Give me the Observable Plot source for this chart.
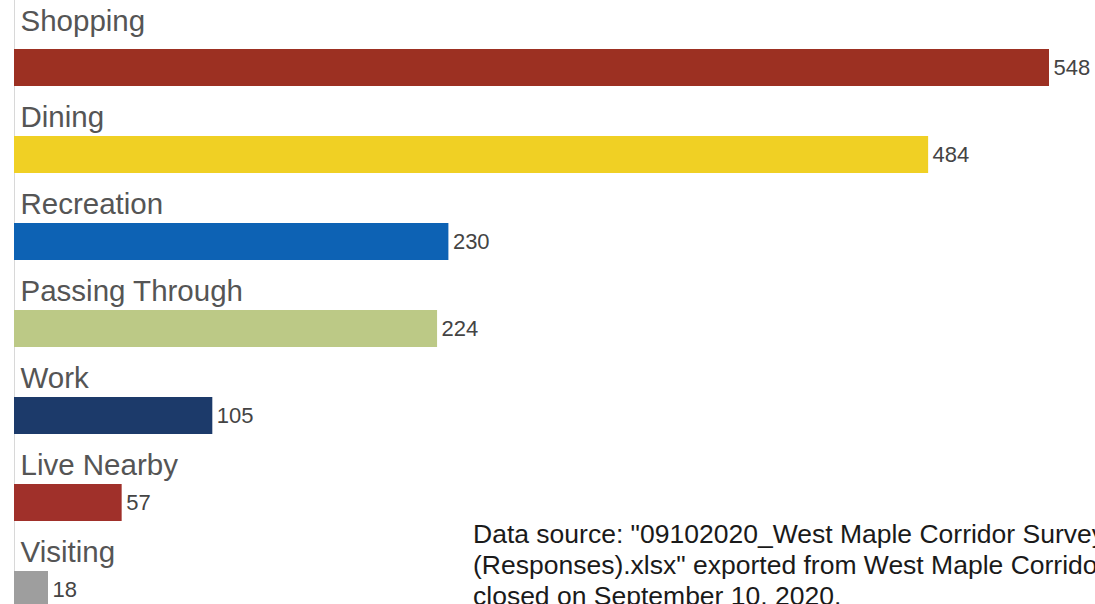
<!DOCTYPE html>
<html>
<head>
<meta charset="utf-8">
<script src="https://cdn.jsdelivr.net/npm/d3@7"></script>
<script src="https://cdn.jsdelivr.net/npm/@observablehq/plot@0.6"></script>
<style>
  html, body { margin: 0; padding: 0; background: #fff; overflow: hidden; }
  #wrap { position: relative; width: 1095px; height: 604px; overflow: hidden; }
  #source { position: absolute; left: 473px; top: 519px; font-family: "Liberation Sans", Arial, sans-serif;
            font-size: 26.5px; line-height: 31px; color: #1a1a1a; white-space: nowrap; }
</style>
</head>
<body>
<div id="wrap"></div>
<script>
const categories = ["Shopping", "Dining", "Recreation", "Passing Through", "Work", "Live Nearby", "Visiting"];
const counts = [548, 484, 230, 224, 105, 57, 18];
const barColors = ["#9c3022", "#f0d024", "#0d62b4", "#bcc986", "#1c3a6a", "#a0302a", "#9e9e9e"];
const sourceLines = [
  "Data source: \"09102020_West Maple Corridor Survey",
  "(Responses).xlsx\" exported from West Maple Corridor Survey,",
  "closed on September 10, 2020."
];

const data = categories.map((c, i) => ({category: c, count: counts[i]}));

const chart = Plot.plot({
  width: 1095,
  height: 604,
  marginTop: 0, marginBottom: 0, marginLeft: 0, marginRight: 0,
  style: {fontFamily: "'Liberation Sans', Arial, sans-serif", background: "#fff", overflow: "visible"},
  x: {domain: [0, 548], range: [14, 1049], axis: null},
  y: {domain: categories, range: [-1.7, 658.9], padding: 0.575, axis: null},
  color: {domain: categories, range: barColors},
  marks: [
    Plot.ruleX([0], {stroke: "#d8d8d8", strokeWidth: 1}),
    Plot.barX(data, {y: "category", x: "count", fill: "category"}),
    Plot.text(data, {filter: (d, i) => i === 0, y: "category", x: 0, text: "category", textAnchor: "start",
                     dx: 6, dy: -46, fontSize: 29.5, fill: "#555"}),
    Plot.text(data, {filter: (d, i) => i > 0, y: "category", x: 0, text: "category", textAnchor: "start",
                     dx: 6, dy: -37, fontSize: 29.5, fill: "#555"}),
    Plot.text(data, {y: "category", x: "count", text: d => String(d.count), textAnchor: "start", dx: 4,
                     fontSize: 22, fill: "#444"})
  ]
});

const wrap = document.getElementById("wrap");
wrap.appendChild(chart);
const src = document.createElement("div");
src.id = "source";
src.innerHTML = sourceLines.map(l => l.replace(/&/g, "&amp;").replace(/</g, "&lt;")).join("<br>");
wrap.appendChild(src);
</script>
</body>
</html>
